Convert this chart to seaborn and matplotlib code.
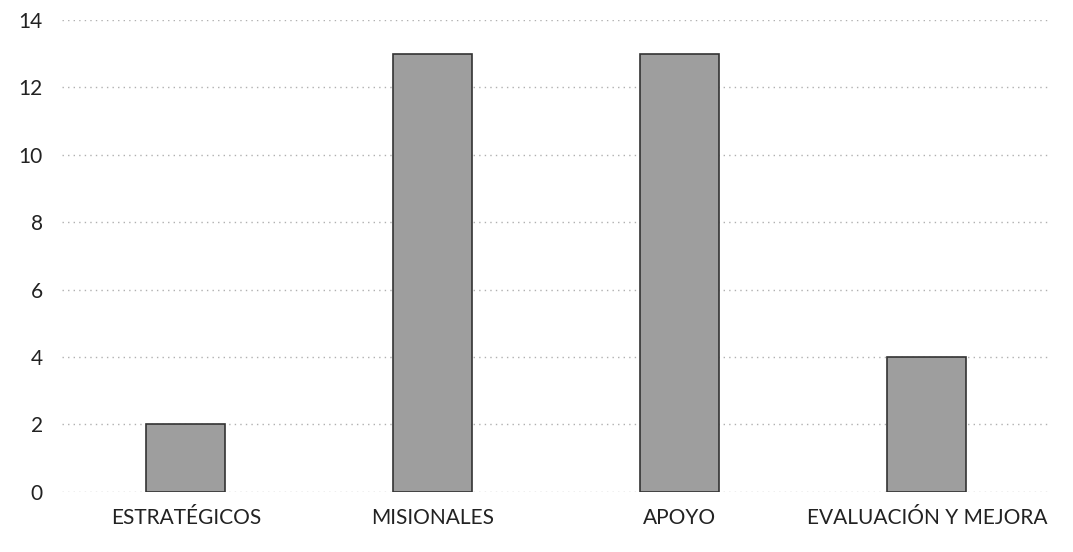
import pandas as pd
import seaborn as sns
import matplotlib.pyplot as plt

sns.set_theme(style="white")
plt.rcParams['font.family'] = ['Lato', 'DejaVu Sans']

# data
categories = ["ESTRATÉGICOS", "MISIONALES", "APOYO", "EVALUACIÓN Y MEJORA"]
counts = [2, 13, 13, 4]
df = pd.DataFrame({"Categoria": categories, "Cantidad": counts})

fig = plt.figure(figsize=(10.73, 5.52), dpi=100)
ax = fig.add_axes([0.058, 0.109, 0.921, 0.855])

sns.barplot(x="Categoria", y="Cantidad", data=df, color="#9e9e9e",
            width=0.32, edgecolor="#333333", linewidth=1.2, saturation=1, ax=ax)

ax.set_ylim(0, 14)
ax.set_xlim(-0.5, 3.5)
ax.set_yticks(range(0, 15, 2))
ax.yaxis.grid(True, linestyle=(0, (1, 3)), color="#b0b0b0", linewidth=1)
ax.set_axisbelow(True)
for s in ax.spines.values():
    s.set_visible(False)
ax.tick_params(axis="both", length=0, labelsize=15, colors="#222222")
ax.tick_params(axis="y", pad=14)
ax.tick_params(axis="x", pad=12)
ax.set_xlabel("")
ax.set_ylabel("")

plt.savefig("out.png", dpi=100)
